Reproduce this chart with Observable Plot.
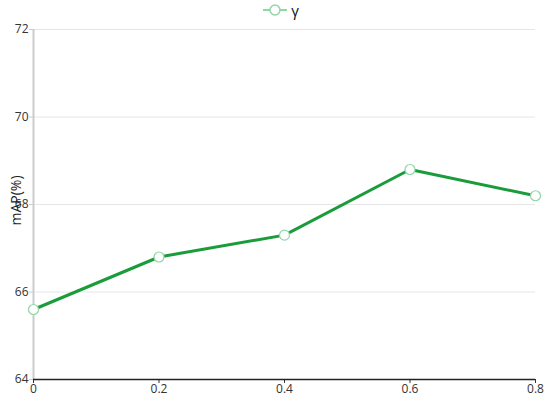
<!DOCTYPE html>
<html><head><meta charset="utf-8">
<script src="https://cdn.jsdelivr.net/npm/d3@7"></script>
<script src="https://cdn.jsdelivr.net/npm/@observablehq/plot@0.6"></script>
<style>
body{margin:0;background:#fff;font-family:"Open Sans",sans-serif;}
#legend{height:20px;display:flex;justify-content:center;align-items:center;font-size:15px;color:#111;padding-left:12px;box-sizing:border-box;}
#legend svg{margin-right:4px}
</style></head>
<body>
<div id="legend"><svg width="24" height="14"><line x1="0" y1="7" x2="24" y2="7" stroke="#8fd6a8" stroke-width="2"/><circle cx="12" cy="7" r="5" fill="#fff" stroke="#8fd6a8" stroke-width="1.5"/></svg><span>γ</span></div>
<div id="chart"></div>
<script>
const gammaValues = [0, 0.2, 0.4, 0.6, 0.8];
const mapValues = [65.6, 66.8, 67.3, 68.8, 68.2];
const xTicks = [0, 0.2, 0.4, 0.6, 0.8];
const yTicks = [64, 66, 68, 70, 72];
const data = gammaValues.map((g, i) => ({g, v: mapValues[i]}));
const plot = Plot.plot({
  width: 550, height: 384,
  marginTop: 9, marginBottom: 25, marginLeft: 33, marginRight: 15,
  style: {fontFamily: '"Open Sans", sans-serif', fontSize: "12px", color: "#333", background: "#fff"},
  x: {domain: [0, 0.8], ticks: xTicks, tickFormat: d => d === 0 ? "0" : String(d), label: null},
  y: {domain: [64, 72], ticks: yTicks, label: null},
  marks: [
    Plot.gridY(yTicks.filter(d => d > 64), {stroke: "#e6e6e6", strokeOpacity: 1}),
    Plot.ruleX([0], {stroke: "#ccc", strokeWidth: 2}),
    Plot.axisY({ticks: yTicks, tickSize: 4, tickPadding: 1, stroke: "#ccc", fill: "#333"}),
    Plot.axisX({ticks: xTicks, tickSize: 4, tickPadding: 1, stroke: "#333", fill: "#333", tickFormat: d => d === 0 ? "0" : String(d)}),
    Plot.ruleY([64], {stroke: "#222", strokeWidth: 1.5}),
    Plot.line(data, {x: "g", y: "v", stroke: "#1a9c3a", strokeWidth: 3}),
    Plot.dot(data, {x: "g", y: "v", r: 5, fill: "#fff", stroke: "#8fd6a8", strokeWidth: 1.2}),
    Plot.text(["mAP(%)"], {frameAnchor: "left", dx: -17, dy: -4, rotate: -90, textAnchor: "middle", fontSize: 14, fill: "#222"})
  ]
});
document.getElementById("chart").appendChild(plot);
</script>
</body></html>
